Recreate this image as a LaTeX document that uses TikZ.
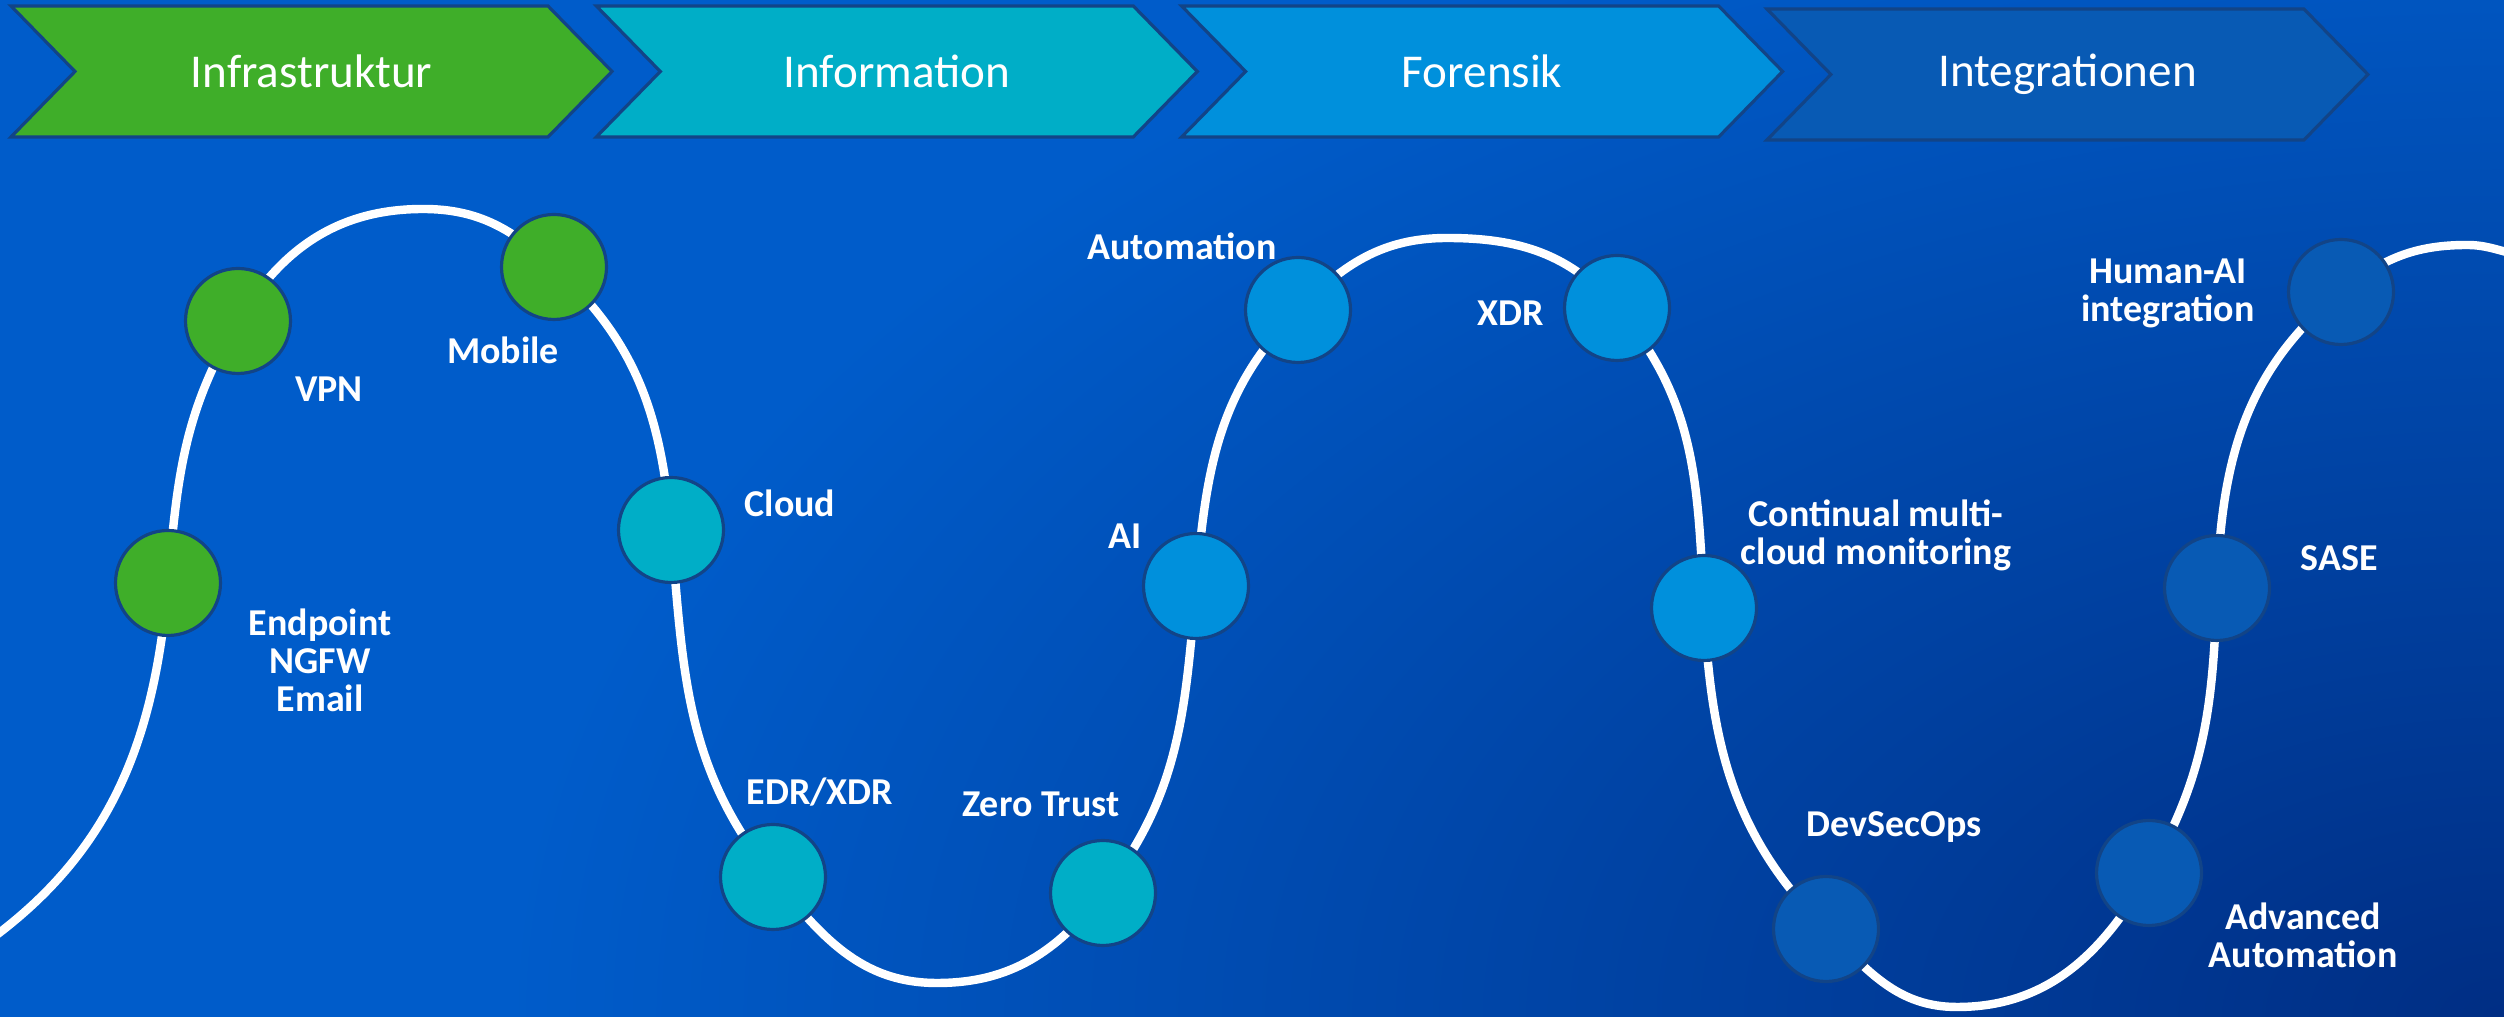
\documentclass[tikz,border=0pt]{standalone}
\usepackage{fontspec}
\setmainfont{Carlito}
\usepackage{tikz}
\usetikzlibrary{positioning,calc,backgrounds}

\definecolor{bgTop}{RGB}{0,92,202}
\definecolor{bgLow}{RGB}{0,46,132}
\definecolor{cInfra}{RGB}{63,174,41}
\definecolor{cInfo}{RGB}{0,174,199}
\definecolor{cForen}{RGB}{0,144,220}
\definecolor{cInteg}{RGB}{8,90,180}
\definecolor{cEdge}{RGB}{18,68,135}

\begin{document}
\begin{tikzpicture}[
    phase/.style={draw=cEdge, line width=0.9pt},
    phasetext/.style={text=white, font=\fontsize{13.4}{16}\selectfont},
    stage/.style={circle, draw=cEdge, line width=0.9pt, minimum size=1.05cm, inner sep=0pt},
    lbl/.style={text=white, font=\fontsize{10.8}{10.8}\selectfont\bfseries, align=center},
    wave/.style={white, line width=2.4pt}
  ]
  \useasboundingbox (0,0) rectangle (25.04,10.17);

  % Phasen oben
  \foreach \i/\txt/\col/\dy in {0/Infrastruktur/cInfra/0, 1/Information/cInfo/0,
                                2/Forensik/cForen/0, 3/Integrationen/cInteg/-0.03} {
    \begin{scope}[xshift=\i*5.853cm, yshift=\dy cm]
      \draw[phase, fill=\col] (0.11,10.11) -- (5.48,10.11) -- (6.12,9.455)
        -- (5.48,8.80) -- (0.11,8.80) -- (0.75,9.455) -- cycle;
      \node[phasetext] (phase\i) at (3.115,9.455) {\txt};
    \end{scope}
  }

  % Stationen
  \node[stage, fill=cInfra] (endp)   at (1.68,4.34) {};
  \node[stage, fill=cInfra] (vpn)    at (2.38,6.96) {};
  \node[stage, fill=cInfra] (mobile) at (5.54,7.50) {};
  \node[stage, fill=cInfo]  (cloud)  at (6.71,4.87) {};
  \node[stage, fill=cInfo]  (edr)    at (7.73,1.40) {};
  \node[stage, fill=cInfo]  (zt)     at (11.03,1.24) {};
  \node[stage, fill=cForen] (ai)     at (11.96,4.31) {};
  \node[stage, fill=cForen] (auto)   at (12.98,7.07) {};
  \node[stage, fill=cForen] (xdr)    at (16.17,7.09) {};
  \node[stage, fill=cForen] (cont)   at (17.04,4.09) {};
  \node[stage, fill=cInteg] (dso)    at (18.26,0.88) {};
  \node[stage, fill=cInteg] (adv)    at (21.49,1.44) {};
  \node[stage, fill=cInteg] (sase)   at (22.17,4.29) {};
  \node[stage, fill=cInteg] (hai)    at (23.41,7.25) {};

  % Scheitel und Enden der Welle
  \coordinate (w0)   at (-0.20,0.70);
  \coordinate (top1) at (4.23,8.08);
  \coordinate (low1) at (9.37,0.34);
  \coordinate (top2) at (14.47,7.79);
  \coordinate (low2) at (19.57,0.10);
  \coordinate (top3) at (24.67,7.72);
  \coordinate (w1)   at (25.20,7.62);

  % Beschriftungen
  \node[lbl] (endpL)   at ($(endp)+(1.52,-0.77)$)  {Endpoint\\NGFW\\Email};
  \node[lbl] (vpnL)    at ($(vpn)+(0.91,-0.68)$)   {VPN};
  \node[lbl] (mobileL) at ($(mobile)+(-0.51,-0.83)$) {Mobile};
  \node[lbl] (cloudL)  at ($(cloud)+(1.19,0.27)$)  {Cloud};
  \node[lbl] (edrL)    at ($(edr)+(0.47,0.85)$)    {EDR/XDR};
  \node[lbl] (ztL)     at ($(zt)+(-0.62,0.89)$)    {Zero Trust};
  \node[lbl] (aiL)     at ($(ai)+(-0.71,0.50)$)    {AI};
  \node[lbl] (autoL)   at ($(auto)+(-1.16,0.64)$)  {Automation};
  \node[lbl] (xdrL)    at ($(xdr)+(-1.06,-0.05)$)  {XDR};
  \node[lbl] (contL)   at ($(cont)+(1.72,0.73)$)   {Continual multi-\\cloud monitoring};
  \node[lbl] (dsoL)    at ($(dso)+(0.68,1.02)$)    {DevSecOps};
  \node[lbl] (advL)    at ($(adv)+(1.54,-0.62)$)   {Advanced\\Automation};
  \node[lbl] (saseL)   at ($(sase)+(1.22,0.30)$)   {SASE};
  \node[lbl] (haiL)    at ($(hai)+(-1.73,-0.01)$)  {Human-AI\\integration};

  % Hintergrund und Welle
  \begin{scope}[on background layer]
    \fill[bgTop] (0,0) rectangle (25.04,10.17);
    \begin{scope}
      \clip (0,0) rectangle (25.04,10.17);
      \shade[inner color=bgLow, outer color=bgTop] (25.04,0) ellipse (20 and 12);
    \end{scope}
    \draw[wave] (w0) to[out=35,in=265] (endp.center)
      to[out=85,in=239] (vpn.center)
      to[out=59,in=180] (top1)
      to[out=0,in=138] (mobile.center)
      to[out=-42,in=95] (cloud.center)
      to[out=-85,in=129] (edr.center)
      to[out=-51,in=180] (low1)
      to[out=0,in=232] (zt.center)
      to[out=52,in=265] (ai.center)
      to[out=85,in=225] (auto.center)
      to[out=45,in=180] (top2)
      to[out=0,in=131] (xdr.center)
      to[out=-49,in=93] (cont.center)
      to[out=-87,in=135] (dso.center)
      to[out=-45,in=180] (low2)
      to[out=0,in=240] (adv.center)
      to[out=60,in=268] (sase.center)
      to[out=88,in=219] (hai.center)
      to[out=39,in=180] (top3)
      to[out=0,in=170] (w1);
  \end{scope}
\end{tikzpicture}
\end{document}
